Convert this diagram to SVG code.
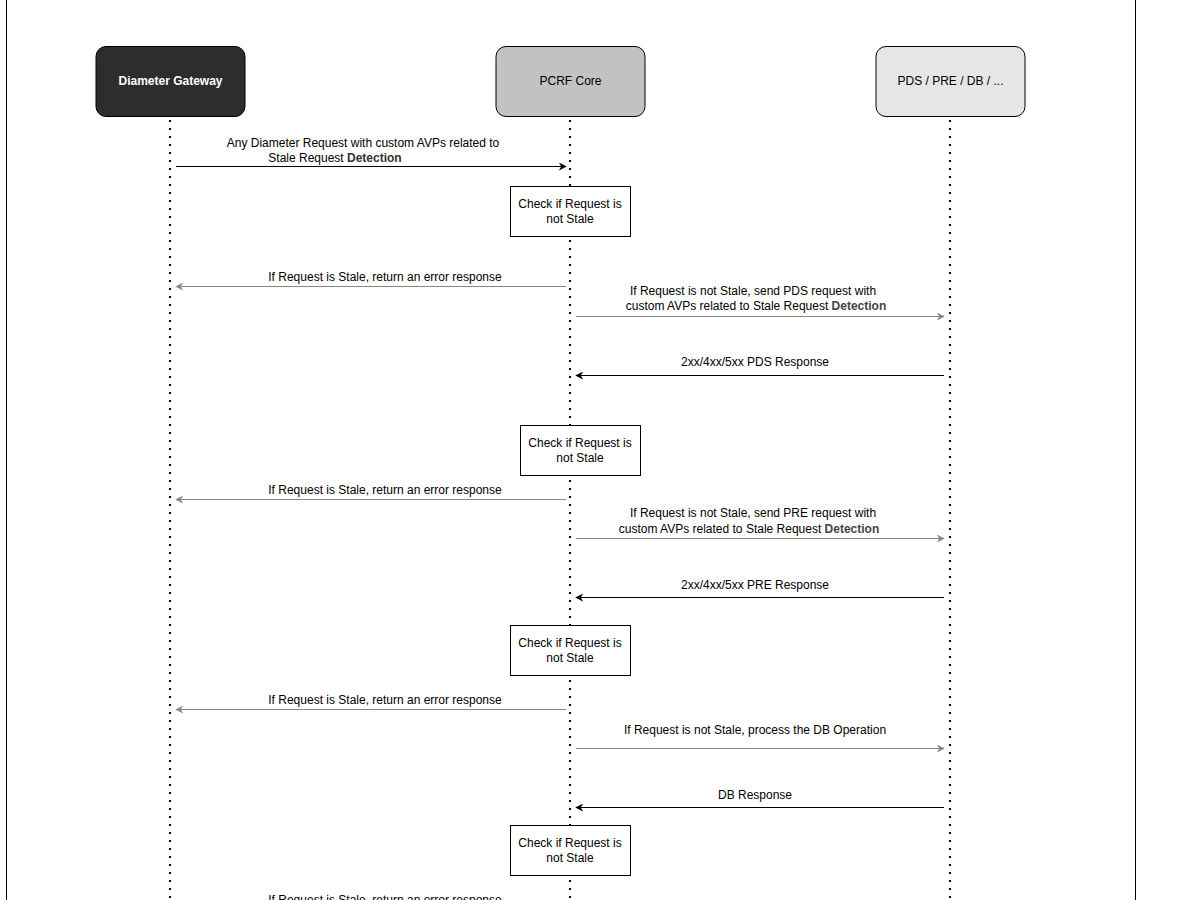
<svg xmlns="http://www.w3.org/2000/svg" width="1200" height="900" viewBox="0 0 1200 900">
<style>
text{font-family:"Liberation Sans",Arial,sans-serif;font-size:12px;fill:#000;text-anchor:middle}
.life{stroke:#000;stroke-width:2;stroke-dasharray:2 6;fill:none}
.blk{stroke:#000;stroke-width:1;fill:none;marker-end:url(#ab)}
.gry{stroke:#888;stroke-width:1;fill:none;marker-end:url(#ag)}
.chk{fill:#fff;stroke:#000;stroke-width:1}
</style>
<defs>
<marker id="ab" viewBox="0 0 10 10" refX="9" refY="5" markerWidth="8" markerHeight="8" markerUnits="userSpaceOnUse" orient="auto"><path d="M0,0 L10,5 L0,10 L3,5 z" fill="#000"/></marker>
<marker id="ag" viewBox="0 0 10 10" refX="9" refY="5" markerWidth="8" markerHeight="8" markerUnits="userSpaceOnUse" orient="auto"><path d="M0,0 L10,5 L0,10 L3,5 z" fill="#888"/></marker>
</defs>
<rect width="1200" height="900" fill="#fff"/>
<path d="M6.5,-1 V901 M1135.5,-1 V901" stroke="#000" stroke-width="1"/>
<g id="lifelines">
<line class="life" x1="170" y1="120" x2="170" y2="900"/>
<line class="life" x1="570" y1="120" x2="570" y2="900"/>
<line class="life" x1="950" y1="120" x2="950" y2="900"/>
</g>
<g id="gateway"><rect x="96" y="46.5" width="149" height="70" rx="10" fill="#2d2d2d" stroke="#000"/><text x="170.5" y="85" style="fill:#fff;font-weight:bold">Diameter Gateway</text></g>
<g id="pcrf"><rect x="496" y="46.5" width="149" height="70" rx="10" fill="#c2c2c2" stroke="#000"/><text x="570.5" y="85">PCRF Core</text></g>
<g id="pds"><rect x="876" y="46.5" width="149" height="70" rx="10" fill="#e6e6e6" stroke="#000"/><text x="950.5" y="85">PDS / PRE / DB / ...</text></g>
<g id="check1"><rect class="chk" x="510.5" y="186.5" width="120" height="50"/><text x="570" y="208">Check if Request is</text><text x="570" y="223">not Stale</text></g>
<g id="check2"><rect class="chk" x="520.5" y="425.5" width="120" height="50"/><text x="580" y="447">Check if Request is</text><text x="580" y="462">not Stale</text></g>
<g id="check3"><rect class="chk" x="510.5" y="625.5" width="120" height="50"/><text x="570" y="647">Check if Request is</text><text x="570" y="662">not Stale</text></g>
<g id="check4"><rect class="chk" x="510.5" y="825.5" width="120" height="50"/><text x="570" y="847">Check if Request is</text><text x="570" y="862">not Stale</text></g>
<g id="connectors">
<line class="blk" x1="176" y1="166.5" x2="566" y2="166.5"/>
<line class="gry" x1="566" y1="286.5" x2="176" y2="286.5"/>
<line class="gry" x1="576" y1="316.5" x2="944" y2="316.5"/>
<line class="blk" x1="944" y1="375.5" x2="576" y2="375.5"/>
<line class="gry" x1="566" y1="499.5" x2="176" y2="499.5"/>
<line class="gry" x1="576" y1="538.5" x2="944" y2="538.5"/>
<line class="blk" x1="944" y1="597.5" x2="576" y2="597.5"/>
<line class="gry" x1="566" y1="709.5" x2="176" y2="709.5"/>
<line class="gry" x1="576" y1="748.5" x2="944" y2="748.5"/>
<line class="blk" x1="944" y1="807.5" x2="576" y2="807.5"/>
<text x="363" y="147">Any Diameter Request with custom AVPs related to</text>
<text x="335" y="162">Stale Request  <tspan style="font-weight:bold;fill:#333">Detection</tspan></text>
<text x="385" y="281">If Request is Stale, return an error response</text>
<text x="753" y="295">If Request is not Stale, send PDS request with</text>
<text x="756" y="310">custom AVPs related to  Stale Request  <tspan style="font-weight:bold;fill:#444">Detection</tspan></text>
<text x="755" y="366">2xx/4xx/5xx PDS Response</text>
<text x="385" y="494">If Request is Stale, return an error response</text>
<text x="753" y="517">If Request is not Stale, send PRE request with</text>
<text x="749" y="533">custom AVPs related to  Stale Request  <tspan style="font-weight:bold;fill:#444">Detection</tspan></text>
<text x="755" y="589">2xx/4xx/5xx PRE Response</text>
<text x="385" y="704">If Request is Stale, return an error response</text>
<text x="755" y="734">If Request is not Stale, process the DB Operation</text>
<text x="755" y="799">DB Response</text>
<text x="385" y="904">If Request is Stale, return an error response</text>
</g>
</svg>
